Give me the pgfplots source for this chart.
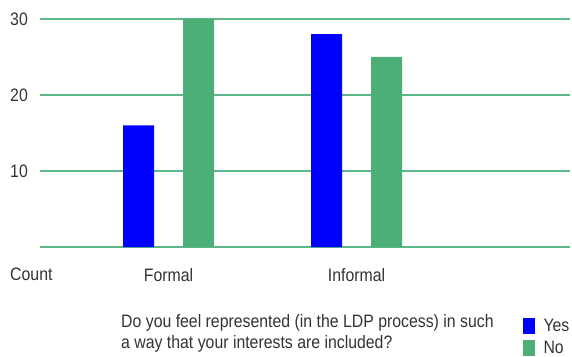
\documentclass[border=0pt]{standalone}
\usepackage{fontspec}
\setmainfont{Liberation Sans}[FakeStretch=0.88]
\usepackage{pgfplots}
\pgfplotsset{compat=1.18}

\definecolor{barblue}{HTML}{0000FF}
\definecolor{bargreen}{HTML}{4CAF78}
\definecolor{gridgreen}{HTML}{5DB786}
\definecolor{txt}{HTML}{333333}

\begin{document}
\begin{tikzpicture}
\useasboundingbox (0,0) rectangle (572pt,356pt);
\begin{axis}[
  at={(40pt,109pt)}, anchor=south west,
  scale only axis, width=530pt, height=228pt,
  ybar=29pt, bar width=31pt,
  xmin=-0.6835, xmax=2.1356,
  ymin=0, ymax=30,
  axis line style={draw=none},
  xtick={0,1}, xticklabels={Formal,Informal},
  ytick={0,10,20,30}, yticklabels={,10,20,30},
  tick style={draw=none},
  /pgf/number format/assume math mode=true,
  every tick label/.append style={font=\fontsize{18}{21}\selectfont, text=txt},
  yticklabel style={anchor=west, inner sep=0pt, xshift=-30pt},
  xticklabel style={anchor=north, inner sep=0pt, yshift=-17pt},
  legend style={at={(rel axis cs:0.910,-0.305)}, anchor=north west,
    draw=none, fill=none, inner sep=0pt, row sep=4pt,
    font=\fontsize{18}{21}\selectfont, text=txt},
  legend image code/.code={\fill[#1] (0pt,-8pt) rectangle (12pt,8pt);},
  legend cell align=left,
]
% horizontal rules at every labelled count, behind the bars
\pgfplotsinvokeforeach{0,10,20,30}{
  \draw[gridgreen, line width=2pt] (axis cs:-0.6835,#1) -- (axis cs:2.1356,#1);
}
\addplot[fill=barblue, draw=none] coordinates {(0,16) (1,28)};
\addplot[fill=bargreen, draw=none] coordinates {(0,30) (1,25)};
\legend{\hspace{7pt}Yes,\hspace{7pt}No}
\end{axis}
\node[anchor=base west, inner sep=0pt, text=txt, font=\fontsize{18}{21}\selectfont] at (10pt,76pt) {Count};
\node[anchor=north west, inner sep=0pt, text=txt, align=left,
      font=\fontsize{18}{21}\selectfont] at (121pt,42pt)
  {Do you feel represented (in the LDP process) in such\\a way that your interests are included?};
\end{tikzpicture}
\end{document}
